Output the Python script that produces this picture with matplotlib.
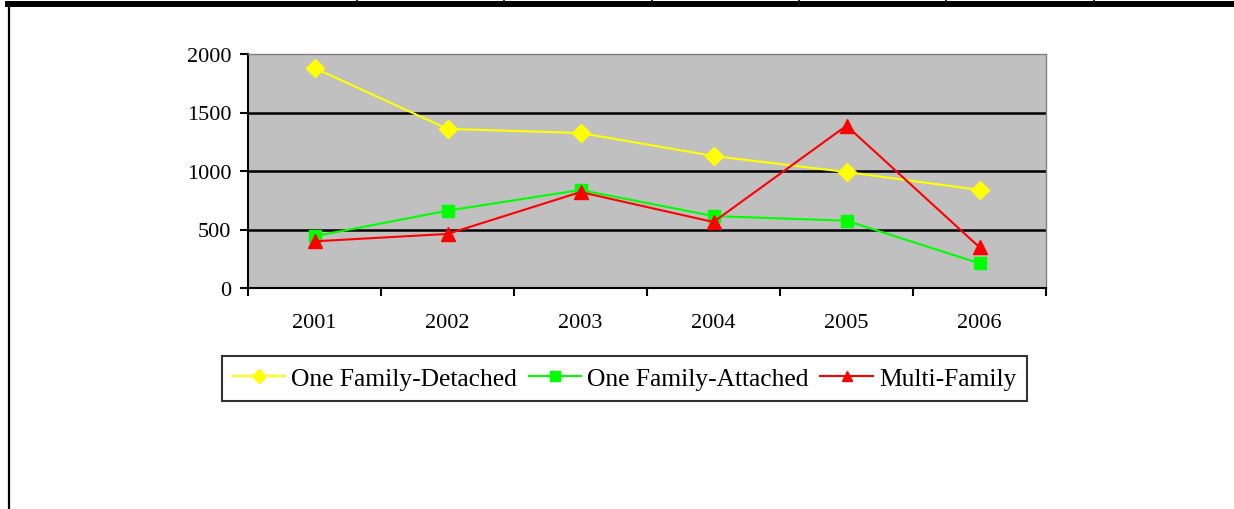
import matplotlib
matplotlib.use("Agg")
import matplotlib.pyplot as plt
from matplotlib.lines import Line2D

years = ["2001", "2002", "2003", "2004", "2005", "2006"]
detached = [1880, 1360, 1325, 1128, 991, 838]
attached = [442, 661, 838, 615, 575, 211]
multi = [399, 462, 820, 564, 1387, 348]

W, H = 1234, 510
fig = plt.figure(figsize=(W / 100, H / 100), dpi=100)
plt.rcParams['font.family'] = ['Liberation Serif', 'DejaVu Serif']

# page frame bits around the chart (thick rule on top, border on left)
fig.add_artist(Line2D([8 / W, 1], [1 - 4.5 / H, 1 - 4.5 / H], color='black', lw=4.3, transform=fig.transFigure))
fig.add_artist(Line2D([8.5 / W, 8.5 / W], [0, 1 - 4 / H], color='black', lw=1.6, transform=fig.transFigure))
for xp in [357, 504, 652, 799, 946, 1094]:
    fig.add_artist(Line2D([xp / W, xp / W], [1 - 4 / H, 1], color='black', lw=1.2, transform=fig.transFigure))

ax = fig.add_axes([248 / W, 1 - 289 / H, (1046 - 248) / W, (289 - 55) / H])
ax.set_facecolor('#c0c0c0')

x = range(len(years))
ax.plot(x, detached, color='#ffff00', lw=1.5, marker='D', ms=9, label='One Family-Detached')
ax.plot(x, attached, color='#00ff00', lw=1.5, marker='s', ms=9, label='One Family-Attached')
ax.plot(x, multi, color='#ff0000', lw=1.5, marker='^', ms=10, label='Multi-Family')

ax.set_xlim(-0.5, len(years) - 0.5)
ax.set_ylim(0, 2000)
ax.set_yticks([0, 500, 1000, 1500, 2000])
for yv in [500, 1000, 1500]:
    ax.axhline(yv, color='black', lw=1.8, zorder=1)

ax.set_xticks([i + 0.5 for i in range(-1, len(years))])
ax.set_xticklabels([])
ax.set_xticks(list(x), minor=True)
ax.set_xticklabels(years, minor=True, fontsize=16)
ax.tick_params(axis='x', which='minor', length=0, pad=18)
ax.tick_params(axis='x', which='major', length=6, width=1.5, direction='out')
ax.tick_params(axis='y', length=6, width=1.5, labelsize=16, pad=6)

for s in ['top', 'right']:
    ax.spines[s].set_color('#808080')
    ax.spines[s].set_linewidth(1.0)
for s in ['left', 'bottom']:
    ax.spines[s].set_color('black')
    ax.spines[s].set_linewidth(1.5)

leg = fig.legend(loc='center', bbox_to_anchor=(624.5 / W, 1 - 379.5 / H), ncol=3,
                 fontsize=18.4, frameon=True, fancybox=False, handlelength=2.05,
                 columnspacing=0.45, handletextpad=0.25, borderpad=0.42,
                 markerscale=0.75, borderaxespad=0)
leg.get_frame().set_edgecolor('black')
leg.get_frame().set_linewidth(1.5)

fig.savefig('out.png', dpi=100)
